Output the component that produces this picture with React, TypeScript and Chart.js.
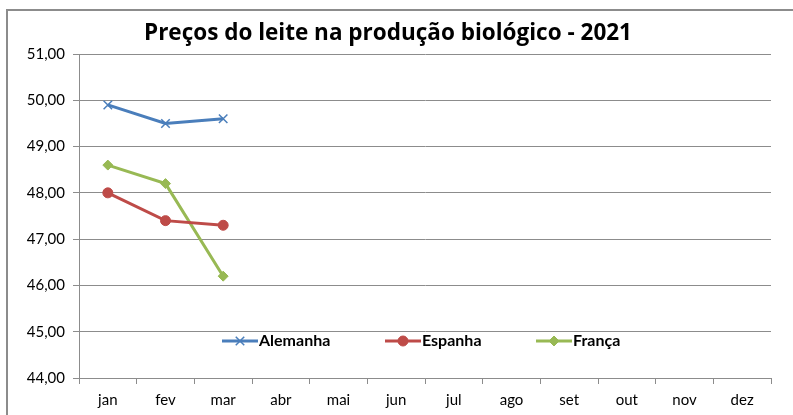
import React, { useEffect, useRef } from "react";
import { Chart, registerables } from "chart.js";
import { drawPoint } from "chart.js/helpers";

Chart.register(...registerables);

const months = ["jan", "fev", "mar", "abr", "mai", "jun", "jul", "ago", "set", "out", "nov", "dez"];
const alemanha = [49.9, 49.5, 49.6, null, null, null, null, null, null, null, null, null];
const espanha = [48.0, 47.4, 47.3, null, null, null, null, null, null, null, null, null];
const franca = [48.6, 48.2, 46.2, null, null, null, null, null, null, null, null, null];
const titleText = "Preços do leite na produção biológico - 2021";

const FONT = "Lato, 'Open Sans', sans-serif";
const TITLE_FONT = "'Open Sans', Lato, sans-serif";
const BLUE = "#4A7EBB";
const RED = "#BE4B48";
const GREEN = "#98B954";

const legendItems = [
  { label: "Alemanha", color: BLUE, style: "crossRot", radius: 6, x: 222 },
  { label: "Espanha", color: RED, style: "circle", radius: 5, x: 385 },
  { label: "França", color: GREEN, style: "rectRot", radius: 5, x: 536 },
];

const extrasPlugin = {
  id: "extras",
  afterDraw(chart: any) {
    const ctx = chart.ctx;
    ctx.save();
    // title
    ctx.fillStyle = "#000";
    ctx.font = `bold 22.5px ${TITLE_FONT}`;
    ctx.textAlign = "center";
    ctx.textBaseline = "middle";
    ctx.fillText(titleText, 388, 34);
    // legend
    const ly = 341;
    legendItems.forEach((it) => {
      ctx.strokeStyle = it.color;
      ctx.lineWidth = 3;
      ctx.beginPath();
      ctx.moveTo(it.x, ly);
      ctx.lineTo(it.x + 36, ly);
      ctx.stroke();
      ctx.fillStyle = it.color;
      ctx.strokeStyle = it.color;
      ctx.lineWidth = it.style === "crossRot" ? 1.5 : 1;
      drawPoint(ctx, { pointStyle: it.style as any, radius: it.radius, rotation: 0, borderWidth: ctx.lineWidth }, it.x + 18, ly);
      ctx.fillStyle = "#000";
      ctx.font = `bold 16px ${FONT}`;
      ctx.textAlign = "left";
      ctx.textBaseline = "middle";
      ctx.fillText(it.label, it.x + 37, ly);
    });
    ctx.restore();
  },
};

export default function App() {
  const ref = useRef<HTMLCanvasElement | null>(null);
  useEffect(() => {
    document.body.style.margin = "0";
    const mk = (label: string, data: any[], color: string, style: string, r: number) => ({
      label,
      data,
      borderColor: color,
      backgroundColor: color,
      borderWidth: 3,
      pointStyle: style,
      pointRadius: r,
      pointBorderWidth: style === "crossRot" ? 1.5 : 1,
      pointBorderColor: color,
      pointBackgroundColor: color,
      tension: 0,
      spanGaps: false,
    });
    const chart = new Chart(ref.current as HTMLCanvasElement, {
      type: "line",
      data: {
        labels: months,
        datasets: [
          mk("Alemanha", alemanha, BLUE, "crossRot", 6),
          mk("Espanha", espanha, RED, "circle", 5),
          mk("França", franca, GREEN, "rectRot", 5),
        ],
      },
      options: {
        animation: false,
        responsive: false,
        maintainAspectRatio: false,
        layout: { padding: { left: 0, top: 54, right: 22, bottom: 0 } },
        plugins: {
          legend: { display: false },
          title: { display: false },
          tooltip: { enabled: false },
        },
        scales: {
          x: {
            offset: true,
            grid: {
              display: true,
              drawOnChartArea: false,
              offset: true,
              color: "#8c8c8c",
              tickLength: 6,
            },
            border: { color: "#8c8c8c", width: 1 },
            ticks: { color: "#000", font: { family: FONT, size: 15 }, padding: 7, maxRotation: 0 },
            afterFit(scale: any) {
              scale.height = 37;
            },
          },
          y: {
            min: 44,
            max: 51,
            ticks: {
              stepSize: 1,
              color: "#000",
              font: { family: FONT, size: 15 },
              padding: 8,
              callback: (v: any) => Number(v).toFixed(2).replace(".", ","),
            },
            grid: { color: "#8c8c8c", tickLength: 6 },
            border: { color: "#8c8c8c", width: 1 },
            afterFit(scale: any) {
              scale.width = 79;
            },
          },
        },
      },
      plugins: [extrasPlugin],
    });
    return () => chart.destroy();
  }, []);
  return (
    <div style={{ position: "relative", width: 793, height: 415, overflow: "hidden", background: "#fff" }}>
      <div
        style={{
          position: "absolute",
          left: 6,
          top: 9,
          width: 900,
          height: 500,
          borderLeft: "2px solid #8c8c8c",
          borderTop: "2px solid #8c8c8c",
        }}
      />
      <canvas ref={ref} width={793} height={415} style={{ position: "absolute", left: 0, top: 0 }} />
    </div>
  );
}
